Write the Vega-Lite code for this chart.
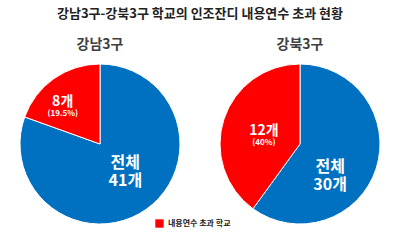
{
  "$schema": "https://vega.github.io/schema/vega-lite/v6.json",
  "background": "white",
  "padding": {"left": 5, "right": 5, "top": 8, "bottom": 0},
  "title": {"text": "강남3구-강북3구 학교의 인조잔디 내용연수 초과 현황", "fontSize": 13, "fontWeight": "bold", "color": "#222222", "anchor": "middle", "offset": 17},
  "data": {"values": [
    {"region": "강남3구", "type": "기타", "count": 33, "label": "전체\n41개", "sub": ""},
    {"region": "강남3구", "type": "내용연수 초과 학교", "count": 8, "label": "8개", "sub": "(19.5%)"},
    {"region": "강북3구", "type": "기타", "count": 18, "label": "전체\n30개", "sub": ""},
    {"region": "강북3구", "type": "내용연수 초과 학교", "count": 12, "label": "12개", "sub": "(40%)"}
  ]},
  "spacing": 10,
  "hconcat": [
    {
      "title": {"text": "강남3구", "fontSize": 14, "fontWeight": "bold", "color": "#404040", "offset": 10, "anchor": "middle"},
      "width": 190, "height": 160,
      "transform": [{"filter": "datum.region === '강남3구'"}],
      "encoding": {
        "theta": {"field": "count", "type": "quantitative", "stack": true},
        "order": {"field": "type", "sort": "ascending"}
      },
      "layer": [
        {"mark": {"type": "arc", "outerRadius": 80, "stroke": "white", "strokeWidth": 1},
         "encoding": {"color": {"field": "type", "type": "nominal",
           "scale": {"domain": ["기타", "내용연수 초과 학교"], "range": ["#0070C0", "#FF0000"]},
           "legend": {"values": ["내용연수 초과 학교"], "title": null, "orient": "none", "legendX": 150, "legendY": 155, "symbolType": "square", "symbolSize": 70, "symbolStrokeWidth": 0, "labelFontSize": 8, "labelFontWeight": "bold", "labelColor": "#222222"}}}},
        {"mark": {"type": "text", "radius": 44, "fontWeight": "bold", "color": "white", "fontSize": 14, "xOffset": -12, "yOffset": -6},
         "encoding": {"text": {"condition": {"test": "datum.type === '기타'", "value": ""}, "field": "label"}}},
        {"mark": {"type": "text", "radius": 44, "fontWeight": "bold", "color": "white", "fontSize": 8, "xOffset": -12, "yOffset": 6},
         "encoding": {"text": {"field": "sub"}}},
        {"mark": {"type": "text", "radius": 44, "fontWeight": "bold", "color": "white", "fontSize": 16, "lineBreak": "\n", "lineHeight": 18, "yOffset": -17},
         "encoding": {"text": {"condition": {"test": "datum.type !== '기타'", "value": ""}, "field": "label"}}}
      ]
    },
    {
      "title": {"text": "강북3구", "fontSize": 14, "fontWeight": "bold", "color": "#404040", "offset": 10, "anchor": "middle"},
      "width": 190, "height": 160,
      "transform": [{"filter": "datum.region === '강북3구'"}],
      "encoding": {
        "theta": {"field": "count", "type": "quantitative", "stack": true},
        "order": {"field": "type", "sort": "ascending"}
      },
      "layer": [
        {"mark": {"type": "arc", "outerRadius": 80, "stroke": "white", "strokeWidth": 1},
         "encoding": {"color": {"field": "type", "type": "nominal"}}},
        {"mark": {"type": "text", "radius": 38, "fontWeight": "bold", "color": "white", "fontSize": 14, "yOffset": -1},
         "encoding": {"text": {"condition": {"test": "datum.type === '기타'", "value": ""}, "field": "label"}}},
        {"mark": {"type": "text", "radius": 38, "fontWeight": "bold", "color": "white", "fontSize": 8, "yOffset": 11},
         "encoding": {"text": {"field": "sub"}}},
        {"mark": {"type": "text", "radius": 38, "fontWeight": "bold", "color": "white", "fontSize": 16, "lineBreak": "\n", "lineHeight": 18, "xOffset": -6, "yOffset": 11},
         "encoding": {"text": {"condition": {"test": "datum.type !== '기타'", "value": ""}, "field": "label"}}}
      ]
    }
  ],
  "resolve": {"scale": {"color": "shared"}},
  "config": {"view": {"stroke": null}, "font": "Noto Sans CJK KR"}
}
